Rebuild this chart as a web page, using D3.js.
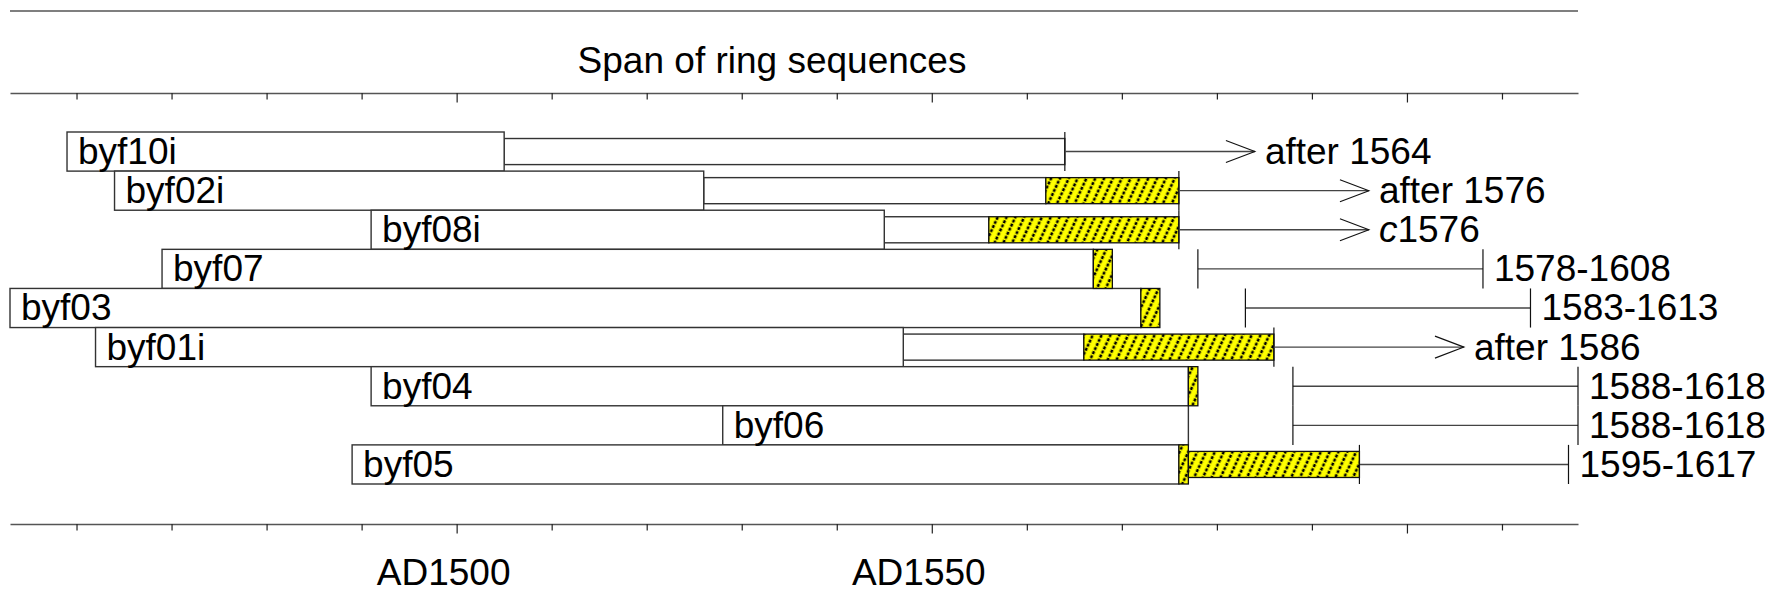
<!DOCTYPE html>
<html>
<head>
<meta charset="utf-8">
<script src="https://cdn.jsdelivr.net/npm/d3@7"></script>
<style>
body { margin: 0; background: #fff; }
text { font-family: "Liberation Sans", Arial, sans-serif; font-size: 37px; fill: #000; }
</style>
</head>
<body>
<script>
// samples, top to bottom
var names = ["byf10i","byf02i","byf08i","byf07","byf03","byf01i","byf04","byf06","byf05"];
// measured heartwood box
var heartStart = [1459,1464,1491,1469,1453,1462,1491,1528,1489];
var heartEnd   = [1505,1526,1545,1567,1572,1547,1577,1577,1576];
// full height sapwood after heartwood
var sapEnd     = [null,null,null,1569,1574,null,1578,null,1577];
// narrow unmeasured rings
var thinEnd    = [1564,1562,1556,null,null,1566,null,null,null];
// narrow sapwood
var thinSapStart = [null,1562,1556,null,null,1566,null,null,1577];
var thinSapEnd   = [null,1576,1576,null,null,1586,null,null,1595];
// felling "after" (arrow) rows
var lastRing   = [1564,1576,1576,null,null,1586,null,null,null];
// felling date ranges
var rangeStart = [null,null,null,1578,1583,null,1588,1588,1595];
var rangeEnd   = [null,null,null,1608,1613,null,1618,1618,1617];
var endLabels  = ["after 1564","after 1576","c1576","1578-1608","1583-1613","after 1586","1588-1618","1588-1618","1595-1617"];

var tickYears = d3.range(1460,1620,10);
var labelYears = [1500,1550];
var labelText = ["AD1500","AD1550"];
var title = "Span of ring sequences";
var arrowYears = 20;

var width = 1771, height = 603;

var x = d3.scaleLinear().domain([1453,1618]).range([10,1578]);
var y = d3.scaleBand().domain(names).range([132,484]).padding(0);
var bh = y.bandwidth();
var thinH = bh*2/3;

var svg = d3.select('body').append('svg')
            .attr('width',width)
            .attr('height',height);

var defs = svg.append('defs');
var pat = defs.append('pattern')
    .attr('id','hatch')
    .attr('patternUnits','userSpaceOnUse')
    .attr('width',8).attr('height',9)
    .attr('patternTransform','rotate(25)');
pat.append('rect').attr('width',8).attr('height',9).attr('fill','#ffff00');
pat.append('line').attr('x1',4).attr('x2',4).attr('y1',0).attr('y2',9)
    .attr('stroke','#000').attr('stroke-width',2.6).attr('stroke-dasharray','3,1.5');

// top rule
svg.append('line')
   .attr('x1',x.range()[0]).attr('x2',x.range()[1])
   .attr('y1',11).attr('y2',11)
   .attr('stroke','#555').attr('stroke-width',1.6);

svg.append('text').attr('x',772).attr('y',73).attr('text-anchor','middle').text(title);

function drawAxis(yPos){
  var g = svg.append('g').attr('transform','translate(0,'+yPos+')')
     .call(d3.axisBottom(x).tickValues(tickYears).tickFormat('').tickSizeOuter(0));
  g.select('.domain').attr('stroke','#555').attr('stroke-width',1.6);
  g.selectAll('.tick line').attr('stroke','#222').attr('stroke-width',1.2)
   .attr('y2',function(d){ return d%50===0 ? 9.5 : 6.5; });
  return g;
}
drawAxis(93);
drawAxis(524);

svg.selectAll('.yearlabel').data(labelYears).enter().append('text')
   .attr('class','yearlabel')
   .attr('x',function(d){ return x(d)-13; })
   .attr('y',585)
   .attr('text-anchor','middle')
   .text(function(d,i){ return labelText[i]; });

var idx = d3.range(names.length);
var stroke = '#333';

// narrow unmeasured rings
svg.selectAll('.thin').data(idx.filter(function(i){ return thinEnd[i]!==null; })).enter()
   .append('rect').attr('class','thin')
   .attr('x',function(i){ return x(heartEnd[i]); })
   .attr('width',function(i){ return x(thinEnd[i])-x(heartEnd[i]); })
   .attr('y',function(i){ return y(names[i])+(bh-thinH)/2; })
   .attr('height',thinH)
   .attr('fill','#fff').attr('stroke',stroke).attr('stroke-width',1.4);

// heartwood boxes
svg.selectAll('.heart').data(idx).enter()
   .append('rect').attr('class','heart')
   .attr('x',function(i){ return x(heartStart[i]); })
   .attr('width',function(i){ return x(heartEnd[i])-x(heartStart[i]); })
   .attr('y',function(i){ return y(names[i]); })
   .attr('height',bh)
   .attr('fill','#fff').attr('stroke',stroke).attr('stroke-width',1.4);

// full height sapwood
svg.selectAll('.sap').data(idx.filter(function(i){ return sapEnd[i]!==null; })).enter()
   .append('rect').attr('class','sap')
   .attr('x',function(i){ return x(heartEnd[i]); })
   .attr('width',function(i){ return x(sapEnd[i])-x(heartEnd[i]); })
   .attr('y',function(i){ return y(names[i]); })
   .attr('height',bh)
   .attr('fill','url(#hatch)').attr('stroke','#111').attr('stroke-width',1.3);

// narrow sapwood
svg.selectAll('.thinsap').data(idx.filter(function(i){ return thinSapEnd[i]!==null; })).enter()
   .append('rect').attr('class','thinsap')
   .attr('x',function(i){ return x(thinSapStart[i]); })
   .attr('width',function(i){ return x(thinSapEnd[i])-x(thinSapStart[i]); })
   .attr('y',function(i){ return y(names[i])+(bh-thinH)/2; })
   .attr('height',thinH)
   .attr('fill','url(#hatch)').attr('stroke','#111').attr('stroke-width',1.3);

// box labels
svg.selectAll('.name').data(idx).enter()
   .append('text').attr('class','name')
   .attr('x',function(i){ return x(heartStart[i])+11; })
   .attr('y',function(i){ return y(names[i])+32; })
   .text(function(i){ return names[i]; });

// arrow rows
var arrows = idx.filter(function(i){ return lastRing[i]!==null; });
var ag = svg.selectAll('.arrow').data(arrows).enter().append('g').attr('class','arrow');
ag.append('line')
  .attr('x1',function(i){ return x(lastRing[i]); }).attr('x2',function(i){ return x(lastRing[i]); })
  .attr('y1',function(i){ return y(names[i]); }).attr('y2',function(i){ return y(names[i])+bh; })
  .attr('stroke','#111').attr('stroke-width',1.2);
ag.append('line')
  .attr('x1',function(i){ return x(lastRing[i]); }).attr('x2',function(i){ return x(lastRing[i]+arrowYears); })
  .attr('y1',function(i){ return y(names[i])+bh/2; }).attr('y2',function(i){ return y(names[i])+bh/2; })
  .attr('stroke','#444').attr('stroke-width',1.4);
ag.append('path')
  .attr('d',function(i){
     var tx = x(lastRing[i]+arrowYears), cy = y(names[i])+bh/2;
     return 'M'+(tx-29)+','+(cy-11)+'L'+tx+','+cy+'L'+(tx-29)+','+(cy+11);
  })
  .attr('fill','none').attr('stroke','#111').attr('stroke-width',1.1);
var at = ag.append('text')
  .attr('x',function(i){ return x(lastRing[i]+arrowYears)+10; })
  .attr('y',function(i){ return y(names[i])+32; });
at.each(function(i){
  var t = d3.select(this), s = endLabels[i];
  if (s.charAt(0)==='c') {
    t.append('tspan').attr('font-style','italic').text('c');
    t.append('tspan').text(s.slice(1));
  } else {
    t.text(s);
  }
});

// date range rows
var ranges = idx.filter(function(i){ return rangeStart[i]!==null; });
var rg = svg.selectAll('.range').data(ranges).enter().append('g').attr('class','range');
rg.append('line')
  .attr('x1',function(i){ return x(rangeStart[i]); }).attr('x2',function(i){ return x(rangeEnd[i]); })
  .attr('y1',function(i){ return y(names[i])+bh/2; }).attr('y2',function(i){ return y(names[i])+bh/2; })
  .attr('stroke','#444').attr('stroke-width',1.4);
rg.append('line')
  .attr('x1',function(i){ return x(rangeStart[i]); }).attr('x2',function(i){ return x(rangeStart[i]); })
  .attr('y1',function(i){ return y(names[i]); }).attr('y2',function(i){ return y(names[i])+bh; })
  .attr('stroke','#111').attr('stroke-width',1.2);
rg.append('line')
  .attr('x1',function(i){ return x(rangeEnd[i]); }).attr('x2',function(i){ return x(rangeEnd[i]); })
  .attr('y1',function(i){ return y(names[i]); }).attr('y2',function(i){ return y(names[i])+bh; })
  .attr('stroke','#111').attr('stroke-width',1.2);
rg.append('text')
  .attr('x',function(i){ return x(rangeEnd[i])+11; })
  .attr('y',function(i){ return y(names[i])+32; })
  .text(function(i){ return endLabels[i]; });
</script>
</body>
</html>
